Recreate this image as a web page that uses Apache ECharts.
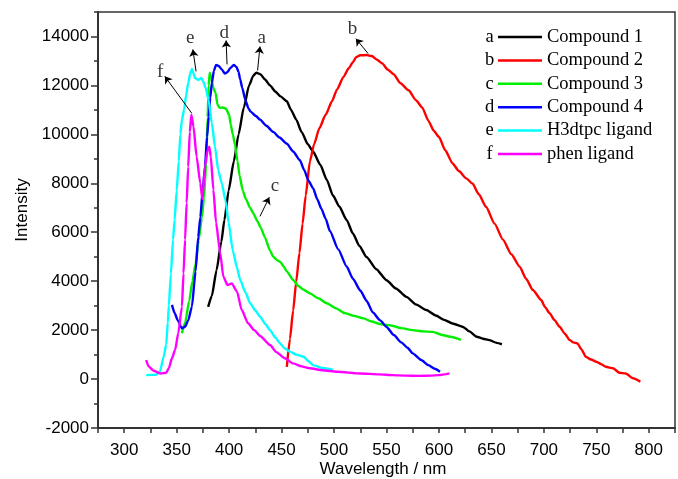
<!DOCTYPE html>
<html><head><meta charset="utf-8">
<script src="https://cdn.jsdelivr.net/npm/echarts@6.0.0/dist/echarts.min.js"></script>
<style>html,body{margin:0;padding:0;background:#fff}#c{width:678px;height:479px}</style>
</head><body><div id="c"></div>
<script>
// ---------- data ----------
const seriesNames = ['Compound 1', 'Compound 2', 'Compound 3', 'Compound 4', 'H3dtpc ligand', 'phen ligand'];
const seriesLetters = ['a', 'b', 'c', 'd', 'e', 'f'];

const compound1 = [[380,2950],[383.5,3400],[388,4450],[392.5,5600],[395.5,6500],[399.5,7700],[404.5,8900],[409,10000],[414,11100],[419,12000],[423,12400],[426,12520],[430,12450],[434,12250],[439,12000],[444,11750],[449,11550],[455,11350],[459,11000],[464,10600],[469,10100],[475,9600],[480,9300],[487,8750],[493,8150],[499,7500],[505,7050],[512,6500],[518,5950],[524,5450],[531,4990],[540,4500],[550,4040],[559,3700],[569,3360],[578,3050],[588,2820],[597,2600],[605,2420],[613,2270],[623,2130],[629,1950],[636,1730],[642,1650],[648,1590],[655,1480],[660,1420]];

const compound2 = [[455,500],[458,1650],[461,2800],[464,4000],[467,5150],[470,6350],[473,7500],[477,8900],[481,9600],[486,10250],[492,10800],[498,11350],[503,11850],[509,12350],[514,12700],[518,12950],[521,13150],[525,13230],[531,13240],[536,13200],[541,13050],[546,12900],[551,12650],[557,12450],[563,12100],[571,11800],[578,11400],[584,11100],[590,10550],[595,10150],[600,9890],[606,9350],[613,8810],[619,8500],[626,8200],[632,7990],[638,7550],[645,7030],[653,6350],[661,5700],[669,5100],[677,4590],[683,4100],[689.5,3640],[697.5,3230],[701,2950],[705.5,2690],[710,2420],[715,2140],[720,1850],[724.5,1600],[728,1500],[732,1460],[736,1200],[740,910],[745,800],[750,710],[755,600],[759,500],[766,440],[772,260],[778,230],[785,30],[792,-110]];

const compound3 = [[355,1870],[358,2300],[362,3200],[365,4000],[368,4700],[371,5700],[374,6600],[376,7400],[378,8800],[379.5,10700],[380.5,12000],[381.5,12520],[383,12300],[385,11900],[387,11700],[389,11200],[391,11080],[394,11100],[397,11050],[400,10800],[401.5,10400],[403.5,10000],[405.5,9600],[408,8900],[410,8300],[413,7700],[416,7350],[420,7000],[423,6780],[427,6450],[430,6200],[434,5800],[439,5250],[442,5000],[446,4850],[449,4780],[452,4600],[455,4400],[461,4050],[466,3800],[471,3650],[477,3500],[485,3300],[493,3100],[502,2890],[510,2700],[519,2580],[528,2480],[536,2350],[544,2250],[553,2200],[564,2080],[575,2000],[585,1950],[594,1930],[603,1800],[612,1720],[621,1600]];

const compound4 = [[345.5,3030],[348,2700],[351,2400],[355,2070],[358,2140],[361,2400],[364.5,2960],[368,4400],[370.5,5800],[372.5,6600],[375,7800],[377,8700],[379,9900],[380.5,10700],[382,11500],[383.5,12100],[385.5,12600],[387.5,12840],[390,12800],[393,12650],[396,12480],[398.5,12550],[401,12700],[404.5,12840],[407,12750],[409,12550],[410.5,12250],[412.5,11900],[415.5,11400],[418.5,11050],[420.5,10930],[425.5,10750],[429.5,10600],[435.5,10350],[442,10100],[448,9870],[455,9620],[461,9300],[467.5,8940],[471.5,8550],[475.5,8120],[480,7800],[484,7350],[488,6950],[492,6550],[496,6050],[504,5300],[512,4600],[518,4100],[525,3620],[531,3200],[537,2720],[544,2400],[550,2130],[557,1800],[564,1500],[570,1280],[575,1050],[583,780],[590,570],[596,420],[601,300]];

const h3dtpcLigand = [[321,160],[326,170],[330,170],[334,300],[337.5,900],[340,1400],[341.5,2300],[342.5,3000],[344.5,4300],[346.5,5700],[348,6500],[350,7700],[352,8900],[353.5,10000],[355,10600],[357,11000],[359,11600],[361,12100],[363,12500],[364.5,12670],[366,12500],[367.5,12300],[370.5,12230],[373.5,12300],[375.5,12150],[377.5,11900],[380.5,11400],[383.5,10460],[386.5,9500],[389.5,8550],[393,8000],[396.5,7300],[399.5,6400],[403.5,5250],[407.5,4550],[410.5,4050],[415.5,3550],[420,3100],[425,2800],[429.5,2550],[434.5,2250],[439,2000],[444,1700],[448.5,1460],[453,1250],[458,1120],[464,1000],[471,910],[476,720],[480,570],[489,450],[499,370]];

const phenLigand = [[321,780],[323,530],[328,340],[334.5,230],[340,260],[342.5,440],[345.5,850],[348.5,1190],[351.5,1870],[355,2960],[356.5,4320],[358,5700],[359.5,7200],[361,8680],[362.5,10100],[364,10800],[366,10320],[369,9090],[372.5,8000],[374.5,7350],[377,8680],[379.5,9350],[381,9500],[382.5,9100],[385,7730],[387.5,6400],[391.5,5140],[394.5,4180],[398.5,3840],[402.5,3910],[407.5,3570],[412,2820],[418,2280],[424,2000],[429.5,1760],[439,1390],[445,1100],[453,850],[461,640],[469,520],[477,440],[489,360],[503,300],[525,230],[543,190],[556,160],[568,140],[581,130],[592,140],[600,160],[607,200],[610,230]];

// annotation letters and arrows (data units)
const annotLetters = ['a', 'b', 'c', 'd', 'e', 'f'];
const annotTextPos = [[431.1,13950],[517.5,14320],[443.7,7870],[395.4,14150],[362.8,13950],[334.3,12560]];
const annotArrowTail = [[427.1,12610],[532.5,13300],[429.4,6650],[398,12860],[368.5,12570],[364.4,10860]];
const annotArrowHead = [[429.4,13590],[520.8,13910],[438.3,7430],[397.1,13840],[365.4,13470],[338.7,12370]];

// axes
const xRange = [275, 825];
const xStep = 25;
const xLabelStep = 50;
const yRange = [-2000, 15000];
const yStep = 1000;
const yLabelStep = 2000;
const xTitle = 'Wavelength / nm';
const yTitle = 'Intensity';

// ---------- chart ----------
const seriesData = [compound1, compound2, compound3, compound4, h3dtpcLigand, phenLigand];
const colors = ['#000000', '#ff0000', '#00ee00', '#0000ff', '#00ffff', '#ff00ff'];
const serif = '"Liberation Serif", "Times New Roman", serif';
const sans = '"Liberation Sans", Arial, sans-serif';

const majorY = [];
for (let v = yRange[0]; v < yRange[1]; v += yLabelStep) majorY.push(v);

const chart = echarts.init(document.getElementById('c'), null, {renderer: 'canvas'});
const legendTop = 27, legendRow = 23.4;
const graphics = [
  {type: 'text', x: 22.5, y: 210, rotation: Math.PI / 2,
   style: {text: yTitle, fontSize: 17, fontFamily: sans, fill: '#000', align: 'center', verticalAlign: 'middle'}},
  {type: 'text', x: 383, y: 469.5,
   style: {text: xTitle, fontSize: 17, fontFamily: sans, fill: '#000', align: 'center', verticalAlign: 'middle'}}
];
seriesLetters.forEach((l, i) => {
  graphics.push({type: 'text', x: 489.5, y: legendTop + 10 + i * legendRow,
    style: {text: l, fontSize: 18.5, fontFamily: serif, fill: '#000', align: 'center', verticalAlign: 'middle'}});
});

const series = seriesData.map((d, i) => ({
  name: seriesNames[i], type: 'line', data: d, showSymbol: false, symbol: 'none',
  smooth: 0.2, smoothMonotone: 'x',
  lineStyle: {width: 2.4, color: colors[i]}, itemStyle: {color: colors[i]},
  emphasis: {disabled: true}, silent: true, z: 3
}));
series.push({
  name: 'annotations', type: 'scatter', symbolSize: 1, silent: true,
  itemStyle: {color: 'transparent'},
  data: annotTextPos.map((p, i) => ({value: p, label: {formatter: annotLetters[i]}})),
  label: {show: true, position: 'inside', fontSize: 19, fontFamily: serif, color: '#000'},
  markLine: {
    silent: true, symbol: ['none', 'arrow'], symbolSize: 7, animation: false,
    lineStyle: {color: '#000', width: 1, type: 'solid'}, label: {show: false},
    emphasis: {disabled: true},
    data: annotArrowTail.map((t, i) => [{coord: t}, {coord: annotArrowHead[i]}])
  },
  z: 4
});

chart.setOption({
  animation: false,
  backgroundColor: '#fff',
  graphic: graphics,
  legend: {
    data: seriesNames, orient: 'vertical', left: 498, top: legendTop,
    icon: 'rect', itemWidth: 44, itemHeight: 2.5, itemGap: legendRow - 20, padding: 0,
    textStyle: {fontFamily: serif, fontSize: 18.5, color: '#000', lineHeight: 20},
    selectedMode: false
  },
  grid: {left: 98, right: 2.5, top: 12, bottom: 51, show: true, borderColor: '#333', borderWidth: 1.5, containLabel: false},
  xAxis: {
    type: 'value', min: xRange[0], max: xRange[1], interval: xStep,
    axisLine: {onZero: false, lineStyle: {color: '#333', width: 2}},
    axisTick: {show: true, inside: false, length: 5, lineStyle: {color: '#333', width: 1.5}},
    axisLabel: {interval: 0, margin: 14, fontSize: 17, fontFamily: sans, color: '#000', lineHeight: 17,
      formatter: v => (v % xLabelStep === 0 ? String(v) : '')},
    splitLine: {show: false}
  },
  yAxis: [{
    type: 'value', min: yRange[0], max: yRange[1], interval: yStep,
    axisLine: {show: true, onZero: false, lineStyle: {color: '#333', width: 2}},
    axisTick: {show: true, inside: false, length: 4, lineStyle: {color: '#333', width: 1.5}},
    axisLabel: {margin: 9, fontSize: 17, fontFamily: sans, color: '#000',
      formatter: v => (v % yLabelStep === 0 ? String(v) : '')},
    splitLine: {show: false}
  }, {
    type: 'value', min: yRange[0], max: yRange[1], interval: yLabelStep, position: 'left',
    axisLine: {show: false},
    axisTick: {show: true, inside: false, length: 7, customValues: majorY, lineStyle: {color: '#333', width: 1.5}},
    axisLabel: {show: false},
    splitLine: {show: false}
  }],
  series: series
});
</script>
</body></html>
